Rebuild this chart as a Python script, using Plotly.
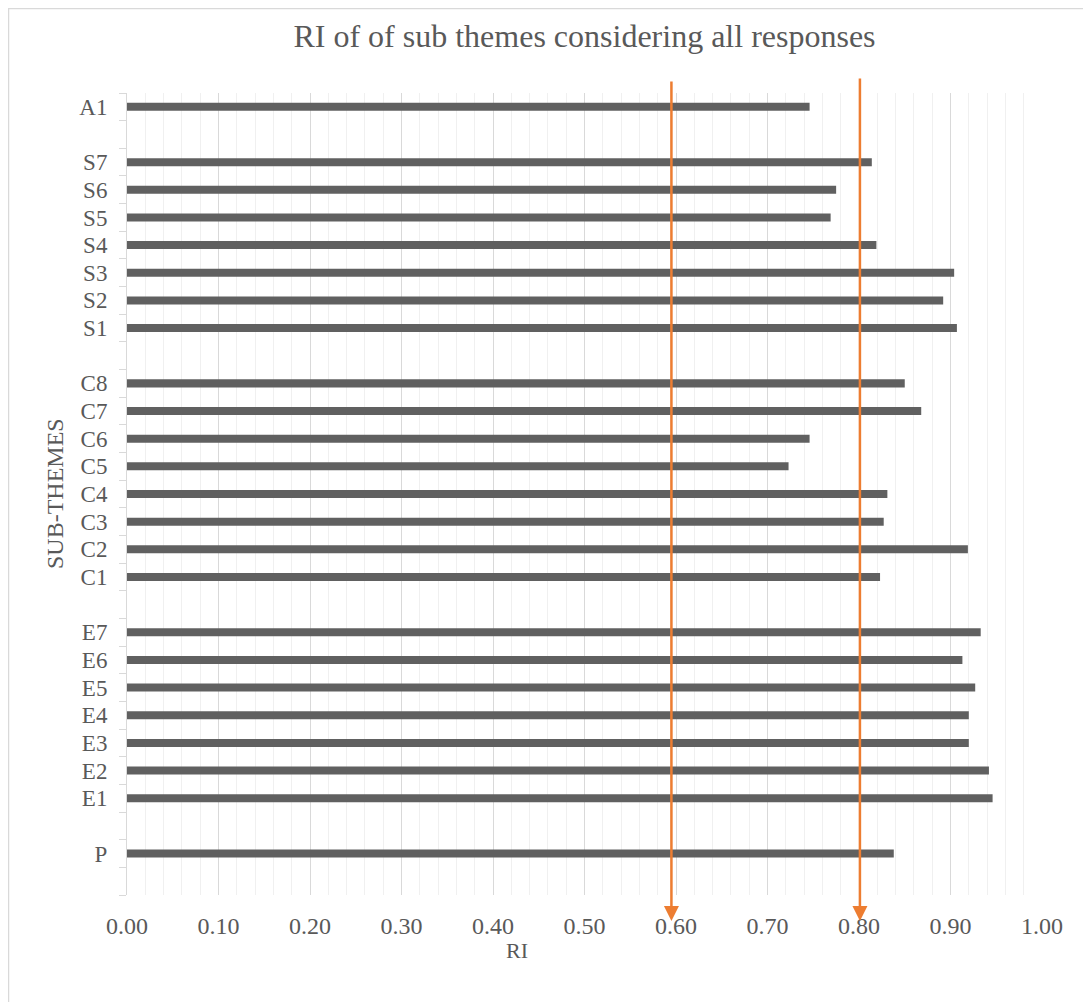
import plotly.graph_objects as go

# Categories from bottom to top (whitespace-only entries are empty spacer rows)
categories = ["", "P", " ",
              "E1", "E2", "E3", "E4", "E5", "E6", "E7", "  ",
              "C1", "C2", "C3", "C4", "C5", "C6", "C7", "C8", "   ",
              "S1", "S2", "S3", "S4", "S5", "S6", "S7", "    ",
              "A1"]
ri_values = [None, 0.838, None,
             0.946, 0.942, 0.920, 0.920, 0.927, 0.913, 0.933, None,
             0.823, 0.919, 0.827, 0.831, 0.723, 0.746, 0.868, 0.850, None,
             0.907, 0.892, 0.904, 0.819, 0.769, 0.775, 0.814, None,
             0.746]
x_tick_values = [0.0, 0.1, 0.2, 0.3, 0.4, 0.5, 0.6, 0.7, 0.8, 0.9, 1.0]
x_tick_labels = ["0.00", "0.10", "0.20", "0.30", "0.40", "0.50",
                 "0.60", "0.70", "0.80", "0.90", "1.00"]
thresholds = [0.595, 0.801]

FONT = "Liberation Serif, Times New Roman, serif"
TXT = "#595959"
ORANGE = "#ED7D31"

OFF = 8  # page body margin in the browser
W, H = 1091 - OFF, 1002 - OFF
PW, PH = 915, 802
L, T = 127 - OFF, 93 - OFF
R, B = W - L - PW, H - T - PH


def px_to_paper_x(sx):
    return (sx - OFF - L) / PW


def px_to_paper_y(sy):
    return (T + PH - (sy - OFF)) / PH


fig = go.Figure()
fig.add_trace(go.Bar(
    y=categories, x=ri_values, orientation="h",
    marker=dict(color="#606060", line=dict(width=0)),
    hoverinfo="x+y", showlegend=False,
))

fig.update_layout(
    width=W, height=H,
    margin=dict(l=L, r=R, t=T, b=B, autoexpand=False),
    paper_bgcolor="white", plot_bgcolor="white",
    bargap=0.71,
    font=dict(family=FONT, color=TXT),
    title=dict(text="RI of of sub themes considering all responses",
               font=dict(family=FONT, size=32, color=TXT),
               x=0.5, xanchor="center", xref="paper",
               y=1 - (36 - OFF) / H, yref="container", yanchor="middle"),
    xaxis=dict(range=[0, 1], tickmode="array",
               tickvals=x_tick_values, ticktext=x_tick_labels,
               showgrid=True, gridcolor="#d9d9d9", gridwidth=1,
               minor=dict(dtick=0.02, tick0=0, showgrid=True,
                          gridcolor="#f0f0f0", gridwidth=1),
               showline=False, zeroline=False, ticks="",
               tickfont=dict(family=FONT, size=24, color=TXT),
               ticklabelstandoff=14, fixedrange=True),
    yaxis=dict(type="category", categoryorder="array", categoryarray=categories,
               tickmode="array", tickvals=categories, ticktext=categories,
               range=[-0.5, len(categories) - 0.5],
               showgrid=False, zeroline=False,
               showline=True, linecolor="#d9d9d9", linewidth=1,
               ticks="outside", ticklen=7, tickcolor="#d9d9d9",
               tickson="boundaries",
               tickfont=dict(family=FONT, size=23, color=TXT),
               ticklabelstandoff=14, fixedrange=True),
)

annotations = [
    dict(text="SUB-THEMES", xref="paper", yref="paper",
         x=px_to_paper_x(55), y=0.5, textangle=-90, showarrow=False,
         xanchor="center", yanchor="middle",
         font=dict(family=FONT, size=24, color=TXT)),
    dict(text="RI", xref="paper", yref="paper",
         x=px_to_paper_x(517), y=px_to_paper_y(950), showarrow=False,
         xanchor="center", yanchor="middle",
         font=dict(family=FONT, size=22, color=TXT)),
]
tops = [80, 77]
for thr, top in zip(thresholds, tops):
    annotations.append(dict(
        text="", xref="x", yref="paper", x=thr, y=px_to_paper_y(921),
        axref="pixel", ayref="pixel", ax=0, ay=-(921 - top),
        showarrow=True, arrowhead=2, arrowsize=1.2, arrowwidth=2.5,
        arrowcolor=ORANGE, standoff=0, startstandoff=0,
    ))
fig.update_layout(annotations=annotations)

# light chart-area border (top and left edges visible in the reference)
fig.add_shape(type="rect", xref="paper", yref="paper",
              x0=px_to_paper_x(8.5), x1=px_to_paper_x(1110),
              y0=px_to_paper_y(1020), y1=px_to_paper_y(8.5),
              line=dict(color="#d9d9d9", width=1.5), fillcolor="rgba(0,0,0,0)",
              layer="below")

fig.write_html("out.html")
